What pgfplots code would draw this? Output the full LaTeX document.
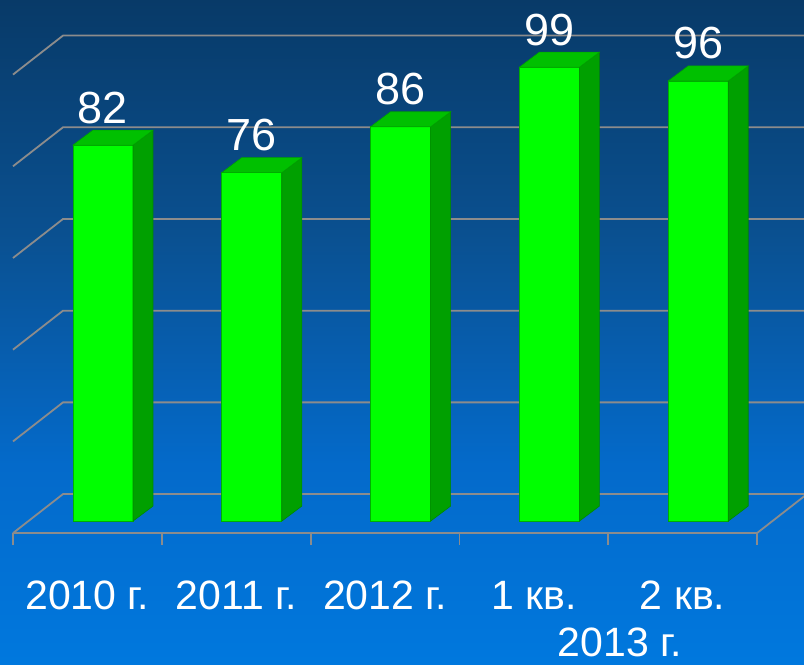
\documentclass[border=0pt]{standalone}
\usepackage{pgfplots}
\pgfplotsset{compat=1.18}
\usepackage{fontspec}
\setmainfont{Liberation Sans}
\definecolor{bgtop}{RGB}{8,58,104}
\definecolor{bgc2}{RGB}{10,80,144}
\definecolor{bgc3}{RGB}{4,106,202}
\definecolor{bgbot}{RGB}{0,120,222}
\definecolor{gridc}{RGB}{140,140,140}
\definecolor{barfront}{RGB}{0,255,0}
\definecolor{bartop}{RGB}{0,192,0}
\definecolor{barside}{RGB}{0,160,0}
\definecolor{baredge}{RGB}{0,175,0}
\pgfdeclareverticalshading{bgshade}{100bp}{color(0bp)=(bgbot); color(25bp)=(bgbot); color(40bp)=(bgc3); color(57.5bp)=(bgc2); color(75bp)=(bgtop); color(100bp)=(bgtop)}
\begin{document}
\begin{tikzpicture}
\begin{axis}[
  scale only axis, width=804bp, height=664bp,
  xmin=-0.6922, xmax=4.7110, ymin=-31.19, ymax=113.63,
  axis background/.style={shade, shading=bgshade},
  axis line style={draw=none},
  ytick=\empty,
  xtick={-0.105,0.895,1.895,2.895,3.895},
  xticklabels={2010 г.,2011 г.,2012 г.,1 кв.,2 кв.},
  major tick length=0pt,
  xticklabel style={anchor=base, yshift=55bp, text=white, font=\fontsize{41bp}{41bp}\selectfont},
  clip=true,
  gridline/.style={gridc, line width=1.8bp, no marks},
]
% back wall and left wall grid
\addplot[gridline] coordinates {(-0.6048,-2.617) (-0.2688,5.889) (4.75,5.889)};
\addplot[gridline] coordinates {(-0.6048,17.383) (-0.2688,25.889) (4.75,25.889)};
\addplot[gridline] coordinates {(-0.6048,37.383) (-0.2688,45.889) (4.75,45.889)};
\addplot[gridline] coordinates {(-0.6048,57.383) (-0.2688,65.889) (4.75,65.889)};
\addplot[gridline] coordinates {(-0.6048,77.383) (-0.2688,85.889) (4.75,85.889)};
\addplot[gridline] coordinates {(-0.6048,97.383) (-0.2688,105.889) (4.75,105.889)};
% floor front edge
\addplot[gridline] coordinates {(-0.6048,-2.617) (4.3952,-2.617) (4.7312,5.889)};
% ticks
\addplot[gridline] coordinates {(-0.6048,-2.617) (-0.6048,-5.234)};
\addplot[gridline] coordinates {(0.3952,-2.617) (0.3952,-5.234)};
\addplot[gridline] coordinates {(1.3952,-2.617) (1.3952,-5.234)};
\addplot[gridline] coordinates {(2.3952,-2.617) (2.3952,-5.234)};
\addplot[gridline] coordinates {(3.3952,-2.617) (3.3952,-5.234)};
\addplot[gridline] coordinates {(4.3952,-2.617) (4.3952,-5.234)};
% bars: front faces
\addplot[ybar, bar width=0.4032, fill=barfront, draw=baredge, line width=0.8bp]
  coordinates {(0,82) (1,76) (2,86) (3,99) (4,96)};
% side faces
\addplot[fill=barside, draw=barside!85!black, line width=0.6bp] coordinates {(0.2016,0) (0.336,3.272) (0.336,85.272) (0.2016,82)} --cycle;
\addplot[fill=barside, draw=barside!85!black, line width=0.6bp] coordinates {(1.2016,0) (1.336,3.272) (1.336,79.272) (1.2016,76)} --cycle;
\addplot[fill=barside, draw=barside!85!black, line width=0.6bp] coordinates {(2.2016,0) (2.336,3.272) (2.336,89.272) (2.2016,86)} --cycle;
\addplot[fill=barside, draw=barside!85!black, line width=0.6bp] coordinates {(3.2016,0) (3.336,3.272) (3.336,102.272) (3.2016,99)} --cycle;
\addplot[fill=barside, draw=barside!85!black, line width=0.6bp] coordinates {(4.2016,0) (4.336,3.272) (4.336,99.272) (4.2016,96)} --cycle;
% top faces
\addplot[fill=bartop, draw=bartop!85!black, line width=0.6bp] coordinates {(-0.2016,82) (0.2016,82) (0.336,85.272) (-0.0672,85.272)} --cycle;
\addplot[fill=bartop, draw=bartop!85!black, line width=0.6bp] coordinates {(0.7984,76) (1.2016,76) (1.336,79.272) (0.9328,79.272)} --cycle;
\addplot[fill=bartop, draw=bartop!85!black, line width=0.6bp] coordinates {(1.7984,86) (2.2016,86) (2.336,89.272) (1.9328,89.272)} --cycle;
\addplot[fill=bartop, draw=bartop!85!black, line width=0.6bp] coordinates {(2.7984,99) (3.2016,99) (3.336,102.272) (2.9328,102.272)} --cycle;
\addplot[fill=bartop, draw=bartop!85!black, line width=0.6bp] coordinates {(3.7984,96) (4.2016,96) (4.336,99.272) (3.9328,99.272)} --cycle;
% value labels
\addplot[draw=none, mark=none, nodes near coords={\pgfmathprintnumber[assume math mode=true]{\pgfplotspointmeta}},
  every node near coord/.style={anchor=base, yshift=22bp, text=white, font=\fontsize{45bp}{45bp}\selectfont, inner sep=0pt}]
  coordinates {(0,82) (1,76) (2,86) (3,99) (4,96)};
\node[anchor=base, text=white, font=\fontsize{41bp}{41bp}\selectfont, inner sep=0pt] at (axis cs:3.474,-29.44) {2013 г.};
\end{axis}
\end{tikzpicture}
\end{document}
